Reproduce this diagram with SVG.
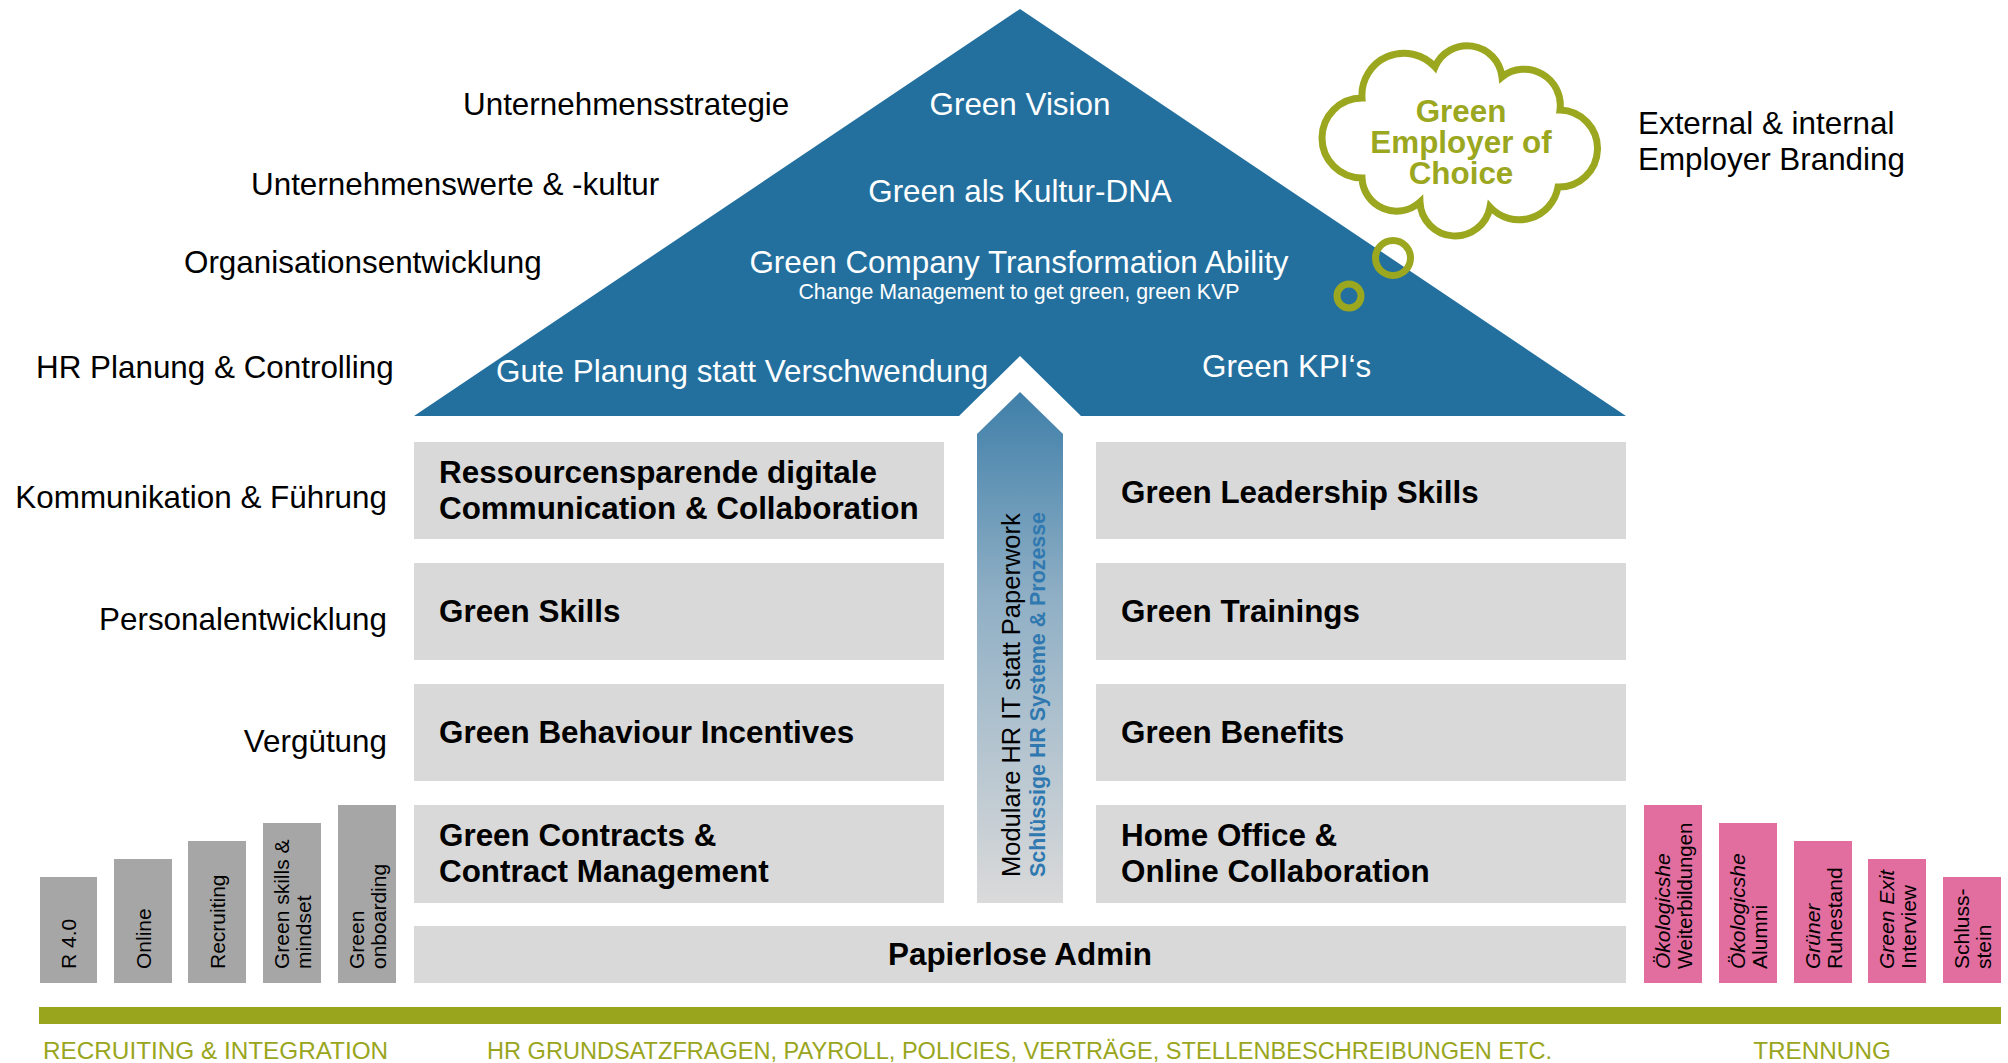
<svg xmlns="http://www.w3.org/2000/svg" width="2008" height="1063" viewBox="0 0 2008 1063">
<style>
text{font-family:"Liberation Sans",Arial,Helvetica,sans-serif}
.lbl{font-size:31.4px;fill:#000}
.tri{font-size:31.4px;fill:#fff}
.box{fill:#d9d9d9}
.bt{font-size:31.4px;font-weight:bold;fill:#000}
.gbar{fill:#a6a6a6}
.pbar{fill:#e26d9f}
.vt{font-size:21px;fill:#000}
.cat{font-size:24.3px;fill:#99a61d}
.olive{fill:none;stroke:#9ba71f;stroke-width:7}
</style>
<defs>
<linearGradient id="arrowGrad" x1="0" y1="392" x2="0" y2="903" gradientUnits="userSpaceOnUse">
<stop offset="0" stop-color="#3f7fa9"/>
<stop offset="0.4" stop-color="#8fafc5"/>
<stop offset="1" stop-color="#dadada"/>
</linearGradient>
</defs>
<rect width="2008" height="1063" fill="#fff"/>

<g id="roof">
<polygon points="414,416 1020,9 1626,416 1081,416 1020,356 959,416" fill="#23709f"/>
<text class="tri" x="1020" y="115" text-anchor="middle">Green Vision</text>
<text class="tri" x="1020" y="202" text-anchor="middle">Green als Kultur-DNA</text>
<text class="tri" x="1019" y="273" text-anchor="middle">Green Company Transformation Ability</text>
<text class="tri" x="1019" y="299" text-anchor="middle" style="font-size:21.4px">Change Management to get green, green KVP</text>
<text class="tri" x="496" y="382">Gute Planung statt Verschwendung</text>
<text class="tri" x="1202" y="377">Green KPI‘s</text>
</g>

<g id="cloud">
<path class="olive" style="fill:#fff" d="M1362,178 A40,40 0 0 1 1362,98 A42,42 0 0 1 1435,67 A35,35 0 0 1 1502,77 A36,36 0 0 1 1560,110 A38.5,38.5 0 0 1 1558,187 A39.5,39.5 0 0 1 1490,207 A35.3,35.3 0 0 1 1420,202 A34.6,34.6 0 0 1 1362,178 Z"/>
<circle class="olive" cx="1393" cy="258" r="17.5"/>
<circle class="olive" cx="1349" cy="296" r="12"/>
<text x="1461" y="122" text-anchor="middle" style="font-size:31.4px;font-weight:bold;fill:#9ba71f">Green</text>
<text x="1461" y="153" text-anchor="middle" style="font-size:31.4px;font-weight:bold;fill:#9ba71f">Employer of</text>
<text x="1461" y="184" text-anchor="middle" style="font-size:31.4px;font-weight:bold;fill:#9ba71f">Choice</text>
</g>

<g id="branding">
<text class="lbl" x="1638" y="134">External &amp; internal</text>
<text class="lbl" x="1638" y="170">Employer Branding</text>
</g>

<g id="left-labels">
<text class="lbl" x="463" y="115">Unternehmensstrategie</text>
<text class="lbl" x="251" y="195">Unternehmenswerte &amp; -kultur</text>
<text class="lbl" x="184" y="273">Organisationsentwicklung</text>
<text class="lbl" x="36" y="378">HR Planung &amp; Controlling</text>
<text class="lbl" x="387" y="508" text-anchor="end">Kommunikation &amp; Führung</text>
<text class="lbl" x="387" y="630" text-anchor="end">Personalentwicklung</text>
<text class="lbl" x="387" y="752" text-anchor="end">Vergütung</text>
</g>

<g id="it-arrow">
<polygon points="1020,392 1063,434 1063,903 977,903 977,434" fill="url(#arrowGrad)"/>
<text transform="translate(1020,877) rotate(-90)" style="font-size:25.5px;fill:#000">Modulare HR IT statt Paperwork</text>
<text transform="translate(1045,877) rotate(-90)" style="font-size:21.4px;font-weight:bold;fill:#2f78b0">Schlüssige HR Systeme &amp; Prozesse</text>
</g>

<g id="box-communication">
<rect class="box" x="414" y="442" width="530" height="97"/>
<text class="bt" x="439" y="483">Ressourcensparende digitale</text>
<text class="bt" x="439" y="519">Communication &amp; Collaboration</text>
</g>
<g id="box-leadership">
<rect class="box" x="1096" y="442" width="530" height="97"/>
<text class="bt" x="1121" y="503">Green Leadership Skills</text>
</g>
<g id="box-skills">
<rect class="box" x="414" y="563" width="530" height="97"/>
<text class="bt" x="439" y="622">Green Skills</text>
</g>
<g id="box-trainings">
<rect class="box" x="1096" y="563" width="530" height="97"/>
<text class="bt" x="1121" y="622">Green Trainings</text>
</g>
<g id="box-incentives">
<rect class="box" x="414" y="684" width="530" height="97"/>
<text class="bt" x="439" y="743">Green Behaviour Incentives</text>
</g>
<g id="box-benefits">
<rect class="box" x="1096" y="684" width="530" height="97"/>
<text class="bt" x="1121" y="743">Green Benefits</text>
</g>
<g id="box-contracts">
<rect class="box" x="414" y="805" width="530" height="98"/>
<text class="bt" x="439" y="846">Green Contracts &amp;</text>
<text class="bt" x="439" y="882">Contract Management</text>
</g>
<g id="box-homeoffice">
<rect class="box" x="1096" y="805" width="530" height="98"/>
<text class="bt" x="1121" y="846">Home Office &amp;</text>
<text class="bt" x="1121" y="882">Online Collaboration</text>
</g>
<g id="box-admin">
<rect class="box" x="414" y="926" width="1212" height="57"/>
<text class="bt" x="1020" y="965" text-anchor="middle">Papierlose Admin</text>
</g>

<g id="recruiting-steps">
<g id="step-r40"><rect class="gbar" x="40" y="877" width="57" height="106"/>
<text class="vt" transform="translate(76,969) rotate(-90)">R 4.0</text></g>
<g id="step-online"><rect class="gbar" x="114" y="859" width="58" height="124"/>
<text class="vt" transform="translate(150.5,969) rotate(-90)">Online</text></g>
<g id="step-recruiting"><rect class="gbar" x="188" y="841" width="58" height="142"/>
<text class="vt" transform="translate(224.5,969) rotate(-90)">Recruiting</text></g>
<g id="step-skills"><rect class="gbar" x="263" y="823" width="58" height="160"/>
<text class="vt" transform="translate(289,969) rotate(-90)">Green skills &amp;</text>
<text class="vt" transform="translate(311,969) rotate(-90)">mindset</text></g>
<g id="step-onboarding"><rect class="gbar" x="338" y="805" width="58" height="178"/>
<text class="vt" transform="translate(364,969) rotate(-90)">Green</text>
<text class="vt" transform="translate(386,969) rotate(-90)">onboarding</text></g>
</g>

<g id="separation-steps">
<g id="step-weiterbildung"><rect class="pbar" x="1644" y="805" width="58" height="178"/>
<text class="vt" transform="translate(1670,969) rotate(-90)" font-style="italic">Ökologicshe</text>
<text class="vt" transform="translate(1692,969) rotate(-90)" style="font-size:20.3px">Weiterbildungen</text></g>
<g id="step-alumni"><rect class="pbar" x="1719" y="823" width="58" height="160"/>
<text class="vt" transform="translate(1744.5,969) rotate(-90)" font-style="italic">Ökologicshe</text>
<text class="vt" transform="translate(1766.5,969) rotate(-90)">Alumni</text></g>
<g id="step-ruhestand"><rect class="pbar" x="1794" y="841" width="58" height="142"/>
<text class="vt" transform="translate(1819.5,969) rotate(-90)" font-style="italic">Grüner</text>
<text class="vt" transform="translate(1841.5,969) rotate(-90)">Ruhestand</text></g>
<g id="step-exit"><rect class="pbar" x="1868" y="859" width="58" height="124"/>
<text class="vt" transform="translate(1893.5,969) rotate(-90)" font-style="italic">Green Exit</text>
<text class="vt" transform="translate(1915.5,969) rotate(-90)">Interview</text></g>
<g id="step-schluss"><rect class="pbar" x="1943" y="877" width="58" height="106"/>
<text class="vt" transform="translate(1968.5,969) rotate(-90)">Schluss-</text>
<text class="vt" transform="translate(1990.5,969) rotate(-90)">stein</text></g>
</g>

<g id="baseline-bar">
<rect x="39" y="1007" width="1962" height="17" fill="#99a61d"/>
<text class="cat" x="43" y="1059">RECRUITING &amp; INTEGRATION</text>
<text class="cat" x="487" y="1059" textLength="1065" lengthAdjust="spacingAndGlyphs">HR GRUNDSATZFRAGEN, PAYROLL, POLICIES, VERTRÄGE, STELLENBESCHREIBUNGEN ETC.</text>
<text class="cat" x="1822" y="1059" text-anchor="middle">TRENNUNG</text>
</g>

<g id="connectors"/>
</svg>
